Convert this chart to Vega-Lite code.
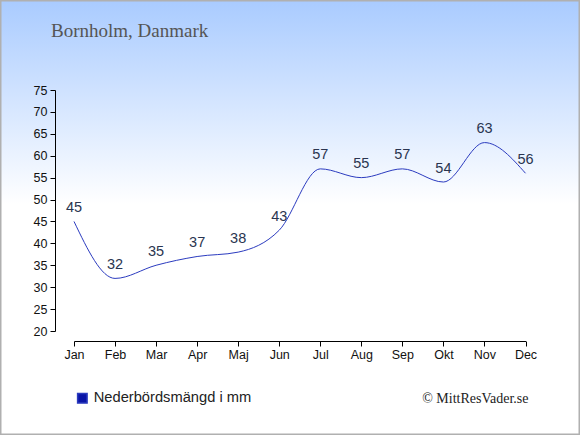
{
  "$schema": "https://vega.github.io/schema/vega-lite/v6.json",
  "width": 580,
  "height": 435,
  "autosize": {"type": "none"},
  "padding": 0,
  "background": "#ffffff",
  "title": {
    "text": "Bornholm, Danmark",
    "orient": "top",
    "anchor": "start",
    "frame": "group",
    "offset": -41,
    "dx": 51,
    "font": "Liberation Serif",
    "fontSize": 19,
    "fontWeight": "normal",
    "color": "#555555"
  },
  "data": {
    "values": [
      {"month": "Jan", "mm": 45, "serie": "Nederbördsmängd i mm"},
      {"month": "Feb", "mm": 32, "serie": "Nederbördsmängd i mm"},
      {"month": "Mar", "mm": 35, "serie": "Nederbördsmängd i mm"},
      {"month": "Apr", "mm": 37, "serie": "Nederbördsmängd i mm"},
      {"month": "Maj", "mm": 38, "serie": "Nederbördsmängd i mm"},
      {"month": "Jun", "mm": 43, "serie": "Nederbördsmängd i mm"},
      {"month": "Jul", "mm": 57, "serie": "Nederbördsmängd i mm"},
      {"month": "Aug", "mm": 55, "serie": "Nederbördsmängd i mm"},
      {"month": "Sep", "mm": 57, "serie": "Nederbördsmängd i mm"},
      {"month": "Okt", "mm": 54, "serie": "Nederbördsmängd i mm"},
      {"month": "Nov", "mm": 63, "serie": "Nederbördsmängd i mm"},
      {"month": "Dec", "mm": 56, "serie": "Nederbördsmängd i mm"}
    ]
  },
  "encoding": {
    "x": {
      "field": "month",
      "type": "ordinal",
      "sort": null,
      "scale": {"type": "point", "range": [74, 525.5], "padding": 0},
      "axis": {
        "title": "© MittResVader.se",
        "titleX": 528,
        "titleY": 61,
        "titleAlign": "right",
        "titleBaseline": "alphabetic",
        "titleFont": "Liberation Serif",
        "titleFontSize": 14,
        "titleFontWeight": "normal",
        "titleColor": "#222222",
        "offset": -94,
        "labelAngle": 0,
        "labelFont": "Liberation Sans",
        "labelFontSize": 12.5,
        "labelColor": "#111111",
        "labelPadding": 2,
        "tickSize": 5,
        "tickColor": "#000000",
        "domainColor": "#000000",
        "grid": false
      }
    },
    "y": {
      "field": "mm",
      "type": "quantitative",
      "scale": {"domain": [20, 75], "range": [331, 90], "nice": false, "zero": false},
      "axis": {
        "title": null,
        "offset": -55,
        "values": [20, 25, 30, 35, 40, 45, 50, 55, 60, 65, 70, 75],
        "labelFont": "Liberation Sans",
        "labelFontSize": 12.5,
        "labelColor": "#111111",
        "labelPadding": 3,
        "labelFlush": false,
        "tickSize": 5,
        "tickColor": "#000000",
        "domainColor": "#000000",
        "grid": false
      }
    }
  },
  "layer": [
    {
      "mark": {"type": "line", "interpolate": "monotone", "strokeWidth": 1},
      "encoding": {
        "color": {
          "field": "serie",
          "type": "nominal",
          "scale": {"range": ["#2b3bbf"]},
          "legend": {
            "title": null,
            "orient": "none",
            "legendX": 75,
            "legendY": 391,
            "padding": 0,
            "symbolType": "square",
            "symbolSize": 90,
            "symbolOffset": 0,
            "labelFont": "Liberation Sans",
            "labelFontSize": 14.7,
            "labelColor": "#222222",
            "labelOffset": 4,
            "encode": {
              "symbols": {
                "update": {
                  "fill": {"value": "#0a14a6"},
                  "stroke": {"value": "transparent"}
                }
              }
            }
          }
        }
      }
    },
    {
      "mark": {
        "type": "text",
        "baseline": "middle",
        "dy": -13.5,
        "font": "Liberation Sans",
        "fontSize": 14.5,
        "color": "#2a3550"
      },
      "encoding": {
        "text": {"field": "mm", "type": "quantitative"}
      }
    }
  ],
  "config": {
    "view": {
      "fill": {
        "gradient": "linear",
        "x1": 0, "y1": 0, "x2": 0, "y2": 1,
        "stops": [
          {"offset": 0, "color": "#a9cbff"},
          {"offset": 0.47, "color": "#ffffff"},
          {"offset": 1, "color": "#ffffff"}
        ]
      },
      "stroke": "#b0b0b0",
      "strokeWidth": 3
    }
  }
}
